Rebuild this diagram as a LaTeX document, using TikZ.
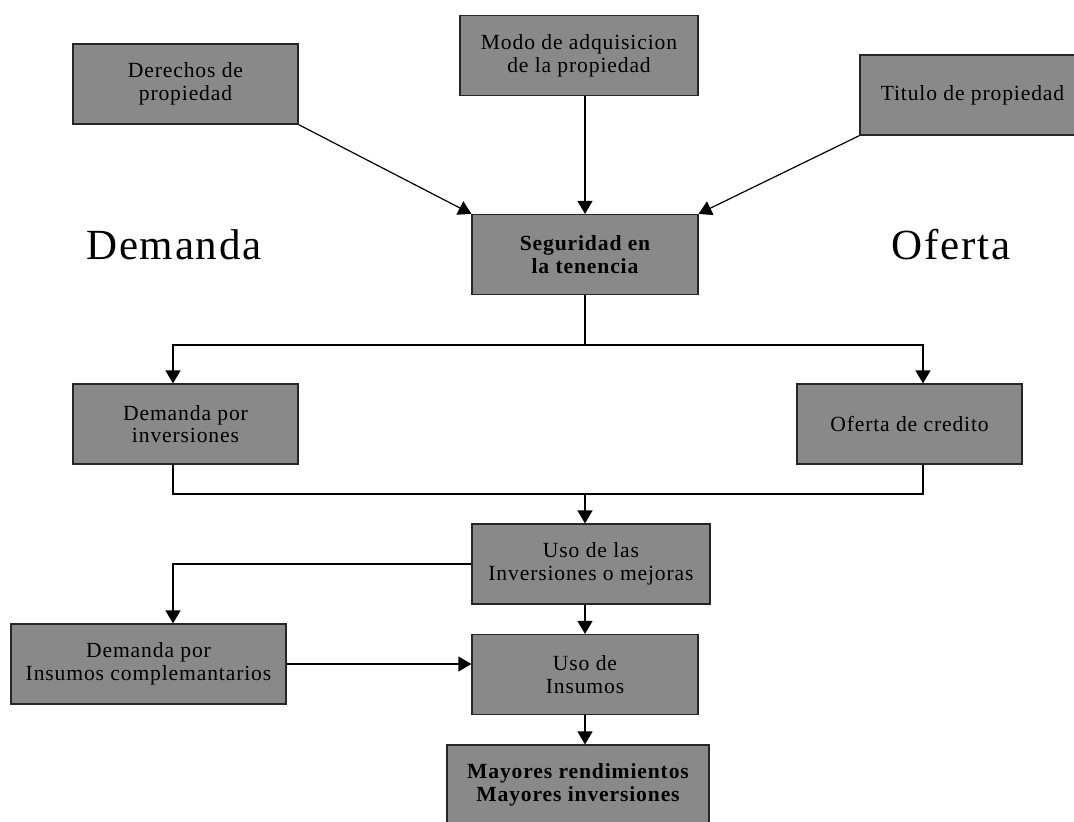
\documentclass[tikz,border=0pt]{standalone}
\usepackage{fontspec}
\setmainfont{Liberation Serif}[LetterSpace=4]
\usetikzlibrary{arrows.meta}
\definecolor{cajagris}{RGB}{137,137,137}

\begin{document}
\begin{tikzpicture}[x=0.5pt,y=-0.5pt,
   caja/.style={draw=black!85,line width=0.6pt,fill=cajagris,align=center,
      inner sep=0pt,minimum height=40pt,font=\fontsize{10.8}{11.4}\selectfont},
   flecha/.style={-{Triangle[length=6.5pt,width=7.5pt]},line width=0.6pt},
   lado/.style={anchor=base,font=\fontsize{21.5}{24}\selectfont}]
   \useasboundingbox (0,0) rectangle (1074,821);
   \node[caja,minimum width=112.5pt] (derechos) at (185.5,84) {Derechos de\\propiedad};
   \node[caja,minimum width=119pt] (modo) at (579,55.5) {Modo de adquisicion\\de la propiedad};
   \node[caja,minimum width=112.5pt] (titulo) at (972.5,95) {Titulo de propiedad};
   \node[caja,minimum width=113pt,font=\fontsize{10.8}{11.4}\selectfont\bfseries] (seguridad) at (585,254.5) {Seguridad en\\la tenencia};
   \node[lado] (demanda) at (174,259) {Demanda};
   \node[lado] (oferta) at (951,259) {Oferta};
   \node[caja,minimum width=112.5pt] (dinv) at (185.5,424) {Demanda por\\inversiones};
   \node[caja,minimum width=112.5pt] (ocred) at (909.5,424) {Oferta de credito};
   \node[caja,minimum width=119pt] (usoinv) at (591,564) {Uso de las\\Inversiones o mejoras};
   \node[caja,minimum width=137.5pt] (dinsumos) at (148.5,664) {Demanda por\\Insumos complemantarios};
   \node[caja,minimum width=113pt] (usoins) at (585,674.5) {Uso de\\Insumos};
   \node[caja,minimum width=131pt,font=\fontsize{10.8}{11.4}\selectfont\bfseries] (mayores) at (578,785) {Mayores rendimientos\\Mayores inversiones};
   \coordinate (reparto) at (585,345);
   \coordinate (union) at (585,494);
   % entradas a la seguridad
   \draw[flecha] (derechos.south east) -- (seguridad.north west);
   \draw[flecha] (modo.south -| seguridad.north) -- (seguridad.north);
   \draw[flecha] (titulo.south west) -- (seguridad.north east);
   % demanda y oferta
   \draw[line width=0.6pt] (seguridad.south) -- (reparto);
   \draw[flecha] (reparto) -| ([xshift=-6.25pt]dinv.north);
   \draw[flecha] (reparto) -| ([xshift=6.75pt]ocred.north);
   \draw[line width=0.6pt] ([xshift=-6.25pt]dinv.south) |- (union);
   \draw[line width=0.6pt] ([xshift=6.75pt]ocred.south) |- (union);
   \draw[flecha] (union) -- (union |- usoinv.north);
   % usos
   \draw[flecha] (usoinv.west) -| ([xshift=12.25pt]dinsumos.north);
   \draw[flecha] ([xshift=-3pt]usoinv.south) -- (usoins.north);
   \draw[flecha] (dinsumos.east) -- (dinsumos.east -| usoins.west);
   \draw[flecha] (usoins.south) -- (usoins.south |- mayores.north);
\end{tikzpicture}
\end{document}
